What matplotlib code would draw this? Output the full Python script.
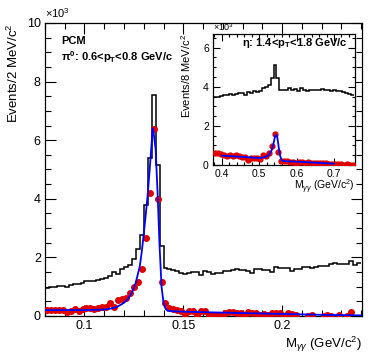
import numpy as np
import matplotlib
matplotlib.use('Agg')
import matplotlib.pyplot as plt
from matplotlib.ticker import MultipleLocator, FormatStrFormatter

plt.rcParams['font.family'] = ['Liberation Sans', 'DejaVu Sans']
plt.rcParams['mathtext.fontset'] = 'custom'
plt.rcParams['mathtext.rm'] = 'Liberation Sans'
plt.rcParams['mathtext.it'] = 'Liberation Sans:italic'
plt.rcParams['mathtext.bf'] = 'Liberation Sans:bold'

# ---- pi0 panel (counts in units of 10^3, 2 MeV bins) ----
pi0_edge0, pi0_width = 0.080, 0.002
pi0_raw = [0.97, 0.99, 1.00, 1.02, 1.03, 0.99, 1.05, 1.10, 1.08, 1.14,
           1.18, 1.20, 1.19, 1.24, 1.27, 1.31, 1.36, 1.50, 1.45, 1.62,
           1.68, 1.75, 1.95, 2.28, 2.76, 3.79, 5.39, 7.55, 5.15, 2.40,
           1.65, 1.60, 1.58, 1.55, 1.48,
           1.42, 1.46, 1.51, 1.50, 1.40, 1.55, 1.50, 1.45, 1.46, 1.47,
           1.52, 1.55, 1.57, 1.59, 1.58, 1.56, 1.52, 1.48, 1.59, 1.60,
           1.58, 1.57, 1.50, 1.66, 1.65, 1.64, 1.63, 1.55, 1.60, 1.61,
           1.66, 1.68, 1.65, 1.66, 1.70, 1.71, 1.72, 1.78, 1.80, 1.77,
           1.77, 1.78, 1.88, 1.75, 1.80]
pi0_sig = [0.20, 0.20, 0.21, 0.20, 0.20, 0.14, 0.17, 0.24, 0.16, 0.24,
           0.26, 0.27, 0.25, 0.27, 0.29, 0.31, 0.45, 0.32, 0.55, 0.58,
           0.63, 0.78, 0.98, 1.15, 1.60, 2.65, 4.20, 6.37, 4.00, 1.17,
           0.45, 0.28, 0.24, 0.22,
           0.16, 0.07, 0.16, 0.18, 0.05, 0.18, 0.16, 0.04, 0.03, 0.04,
           0.04, 0.11, 0.12, 0.15, 0.11, 0.09, 0.01, 0.15, 0.11, 0.09,
           0.04, 0.07, 0.03, 0.11, 0.11, 0.09, 0.00, 0.11, 0.07, 0.04,
           -0.05, -0.03, 0.01, 0.02, -0.04, -0.03, 0.01, 0.03, 0.01, -0.04,
           0.02, -0.05, 0.01, 0.13, -0.03, -0.02]
pi0_fit_m = [0.080, 0.090, 0.100, 0.105, 0.110, 0.114, 0.117, 0.120, 0.122, 0.124,
             0.126, 0.128, 0.129, 0.130, 0.131, 0.132, 0.133, 0.134, 0.1345, 0.135,
             0.136, 0.137, 0.138, 0.139, 0.140, 0.141, 0.142, 0.145, 0.160, 0.180,
             0.200, 0.220, 0.240]
pi0_fit = [0.20, 0.20, 0.20, 0.21, 0.22, 0.26, 0.33, 0.45, 0.58, 0.80,
           1.15, 1.70, 2.20, 2.80, 3.45, 4.15, 5.00, 5.90, 6.40, 6.25,
           5.70, 4.20, 2.40, 1.00, 0.45, 0.25, 0.18, 0.16, 0.13, 0.10,
           0.07, 0.04, 0.02]

# ---- eta inset (counts in units of 10^3, 8 MeV bins) ----
eta_edge0, eta_width = 0.378, 0.008
eta_raw = [3.50, 3.48, 3.55, 3.58, 3.56, 3.62, 3.60, 3.64, 3.66, 3.68,
           3.58, 3.72, 3.70, 3.76, 3.75, 3.78, 3.95, 3.98, 4.10, 4.45,
           5.13, 4.45, 3.85, 3.85, 3.82, 3.92, 3.82, 3.90, 3.80, 3.92,
           3.85, 3.80, 3.84, 3.82, 3.86, 3.84, 3.88, 3.82, 3.85, 3.80,
           3.82, 3.78, 3.80, 3.74, 3.70, 3.62, 3.60]
eta_sig = [0.60, 0.62, 0.55, 0.50, 0.48, 0.50, 0.47, 0.50, 0.48, 0.40,
           0.42, 0.27, 0.38, 0.38, 0.36, 0.33, 0.50, 0.45, 0.60, 0.97,
           1.58, 0.68, 0.22, 0.20, 0.18, 0.15, 0.17, 0.10, 0.14, 0.15,
           0.12, 0.14, 0.10, 0.12, 0.08, 0.10, 0.12, 0.08, 0.06, 0.07,
           0.03, 0.05, 0.04, 0.01, 0.03, 0.00, 0.02]
eta_fit_m = [0.400, 0.450, 0.500, 0.515, 0.525, 0.533, 0.538, 0.542, 0.545, 0.548,
             0.552, 0.556, 0.560, 0.565, 0.600, 0.650, 0.700]
eta_fit = [0.48, 0.42, 0.36, 0.40, 0.50, 0.75, 1.10, 1.45, 1.55, 1.45,
           0.90, 0.45, 0.25, 0.20, 0.17, 0.12, 0.07]

RED = '#e00000'
BLUE = '#0000ff'


def style_axis(ax, fs, major_len, minor_len):
    ax.tick_params(which='both', direction='in', top=True, right=True,
                   labelsize=fs, width=0.8, pad=3)
    ax.tick_params(which='major', length=major_len)
    ax.tick_params(which='minor', length=minor_len)
    for s in ax.spines.values():
        s.set_linewidth(0.9)


def draw_panel(ax, edge0, width, raw, sig, fit_m, fit, ms):
    edges = edge0 + width * np.arange(len(raw) + 1)
    centers = edges[:-1] + width / 2
    ax.stairs(raw, edges, color='black', linewidth=1.1, baseline=None)
    sig = np.array(sig)
    keep = sig >= 0
    ax.plot(centers[keep], sig[keep], 'o', ms=ms, color=RED, mec=RED, zorder=3)
    ax.plot(fit_m, fit, color=BLUE, linewidth=1.3, zorder=4)


fig = plt.figure(figsize=(3.74, 3.56), dpi=100)

ax = fig.add_axes([0.1203, 0.1124, 0.8477, 0.823])
draw_panel(ax, pi0_edge0, pi0_width, pi0_raw, pi0_sig, pi0_fit_m, pi0_fit, 4)
ax.set_xlim(0.08, 0.2405)
ax.set_ylim(0, 10)
ax.xaxis.set_major_locator(MultipleLocator(0.05))
ax.xaxis.set_minor_locator(MultipleLocator(0.01))
ax.yaxis.set_major_locator(MultipleLocator(2))
ax.yaxis.set_minor_locator(MultipleLocator(0.5))
ax.xaxis.set_major_formatter(FormatStrFormatter('%g'))
style_axis(ax, 9, 8, 4)
ax.set_ylabel('Events/2 MeV/c$^2$', fontsize=9.5, loc='top')
ax.yaxis.set_label_coords(-0.075, 1.0)
ax.set_xlabel(r'M$_{\gamma\gamma}$ (GeV/c$^2$)', fontsize=9.5, loc='right')
ax.xaxis.set_label_coords(1.0, -0.065)
ax.text(0.0, 1.01, r'$\times$10$^3$', transform=ax.transAxes, fontsize=8,
        ha='left', va='bottom')
ax.text(0.05, 0.94, 'PCM', transform=ax.transAxes, fontsize=8,
        fontweight='bold', va='center')
ax.text(0.05, 0.885, r'π$^{\mathbf{0}}$: 0.6<p$_\mathbf{T}$<0.8 GeV/c',
        transform=ax.transAxes, fontsize=8, fontweight='bold', va='center')

axi = fig.add_axes([0.5695, 0.5365, 0.3795, 0.368])
draw_panel(axi, eta_edge0, eta_width, eta_raw, eta_sig, eta_fit_m, eta_fit, 3.5)
axi.set_xlim(0.376, 0.756)
axi.set_ylim(0, 6.7)
axi.xaxis.set_major_locator(MultipleLocator(0.1))
axi.xaxis.set_minor_locator(MultipleLocator(0.02))
axi.yaxis.set_major_locator(MultipleLocator(2))
axi.yaxis.set_minor_locator(MultipleLocator(0.5))
axi.xaxis.set_major_formatter(FormatStrFormatter('%g'))
style_axis(axi, 7.5, 5, 2.5)
axi.set_ylabel('Events/8 MeV/c$^2$', fontsize=8, loc='top')
axi.yaxis.set_label_coords(-0.14, 1.0)
axi.set_xlabel(r'M$_{\gamma\gamma}$ (GeV/c$^2$)', fontsize=7.5, loc='right')
axi.xaxis.set_label_coords(1.0, -0.1)
axi.text(0.0, 1.01, r'$\times$10$^3$', transform=axi.transAxes, fontsize=6.5,
         ha='left', va='bottom')
axi.text(0.95, 0.93, r'η: 1.4<p$_\mathbf{T}$<1.8 GeV/c',
         transform=axi.transAxes, fontsize=8, fontweight='bold',
         ha='right', va='center')

fig.savefig('out.png', dpi=100)
